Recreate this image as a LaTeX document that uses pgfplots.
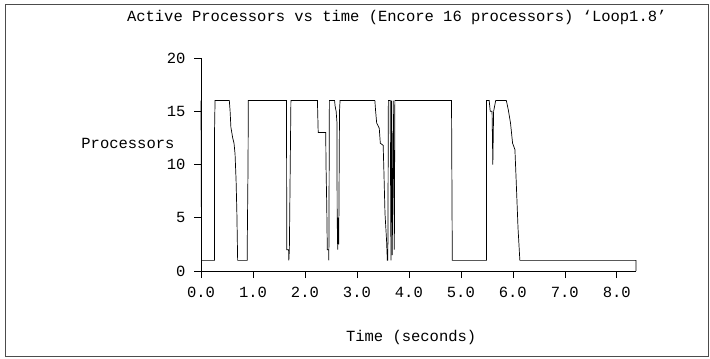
\documentclass[border=0pt]{standalone}
\usepackage{fontspec}
\setmainfont{Liberation Mono}
\usepackage{pgfplots}
\pgfplotsset{compat=1.18}
\begin{document}
\begin{tikzpicture}[x=1bp,y=1bp]
\path[use as bounding box] (0,0) rectangle (710,358);
\draw[black!70, line width=0.9bp] (5,1.5) rectangle (708.5,354);
\begin{axis}[
  at={(201bp,87bp)}, anchor=south west,
  scale only axis, width=435bp, height=213bp,
  xmin=0, xmax=8.37, ymin=0, ymax=20,
  axis x line*=bottom, axis y line*=left,
  xtick={0,1,2,3,4,5,6,7,8}, ytick={0,5,10,15,20},
  xticklabels={0.0,1.0,2.0,3.0,4.0,5.0,6.0,7.0,8.0},
  tick align=outside, major tick length=7bp,
  tick style={black, line width=0.6bp},
  axis line style={black, line width=0.7bp},
  /pgf/number format/assume math mode=true,
  ticklabel style={font=\fontsize{15.5bp}{18bp}\selectfont},
  xticklabel style={yshift=-6bp},
  yticklabel style={xshift=-5bp},
  every axis title/.style={at={(axis description cs:0.45,1.192)}, anchor=center, font=\fontsize{15.5bp}{18bp}\selectfont},
  every axis x label/.style={at={(axis description cs:0.483,-0.31)}, anchor=center, font=\fontsize{15.5bp}{18bp}\selectfont},
  every axis y label/.style={at={(axis description cs:-0.053,0.60)}, anchor=east, font=\fontsize{15.5bp}{18bp}\selectfont},
  title={Active Processors vs time (Encore 16 processors) `Loop1.8'},
  xlabel={Time (seconds)},
  ylabel={Processors},
  clip=false,
]
\addplot[black, line width=0.7bp] coordinates {
(0.00,16) (0.01,1) (0.26,1) (0.26,13) (0.27,16)
(0.545,16) (0.56,15) (0.575,13.5) (0.61,12.5) (0.635,12) (0.655,11) (0.675,8.5) (0.69,5.5) (0.705,1)
(0.89,1) (0.89,2.5) (0.905,10) (0.91,16)
(1.645,16) (1.65,2) (1.685,2) (1.69,1) (1.70,2) (1.73,16)
(2.24,16) (2.255,13) (2.40,13) (2.405,10) (2.42,6) (2.43,2) (2.455,2) (2.46,1) (2.47,16)
(2.57,16) (2.58,15.5) (2.60,15) (2.615,14) (2.62,5) (2.63,2) (2.64,5) (2.65,2.5) (2.665,15) (2.675,16)
(3.345,16) (3.36,15) (3.38,13.9) (3.43,13.4) (3.45,12) (3.505,11.8) (3.52,9.2) (3.54,5.4) (3.57,2.9) (3.585,1)
(3.595,1) (3.605,16) (3.64,16) (3.655,1) (3.665,16) (3.68,1.5) (3.70,16) (3.72,2) (3.73,16)
(4.82,16) (4.835,1) (5.495,1) (5.495,16) (5.545,16) (5.565,15) (5.60,15) (5.615,10) (5.63,15) (5.67,16)
(5.875,16) (5.91,15.2) (5.955,13.9) (5.995,12) (6.04,11.4) (6.06,9) (6.10,4) (6.135,1)
(8.37,1) (8.37,0)
};
\end{axis}
\end{tikzpicture}
\end{document}
